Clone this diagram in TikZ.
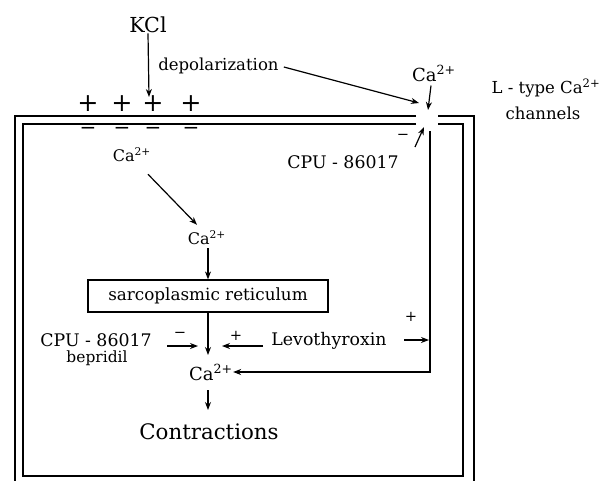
\documentclass[tikz,border=0pt]{standalone}
\usepackage{fontspec}
\setmainfont{DejaVu Serif}
\usetikzlibrary{arrows.meta}
\begin{document}
\begin{tikzpicture}[x=0.75pt,y=-0.75pt,
  arr/.style={-{Stealth[length=6pt,width=4.5pt]}, line width=0.9pt},
  memb/.style={line width=1.6pt},
  txt/.style={inner sep=0pt, font=\fontsize{12.4}{14}\selectfont},
  big/.style={inner sep=0pt, font=\fontsize{16}{18}\selectfont},
  sgn/.style={inner sep=0pt, font=\fontsize{11}{12}\selectfont},
  plus/.style={inner sep=0pt, font=\fontsize{19}{19}\selectfont},
  minus/.style={inner sep=0pt, font=\fontsize{15}{15}\selectfont},
  ca/.style={inner sep=0pt, font=\fontsize{12}{14}\selectfont},
  srbox/.style={draw, line width=0.9pt, minimum width=180pt, minimum height=24pt, inner sep=0pt, font=\fontsize{12.6}{14}\selectfont}]
\clip (0,0) rectangle (612,480);
\fill[white] (0,0) rectangle (612,480);

% membrane (double line) with gap for the channel
\draw[memb] (416,116) -- (15,116) -- (15,495) -- (474,495) -- (474,116) -- (438,116);
\draw[memb] (416,124) -- (23,124) -- (23,476) -- (463,476) -- (463,124) -- (438,124);

% charges
\foreach \i/\x in {1/88,2/122,3/153,4/191}{
  \node[plus] (p\i) at (\x,104) {+};
  \node[minus] (m\i) at (\x,131) {−};
}

% outside
\node[inner sep=0pt, font=\fontsize{15.5}{17}\selectfont] (kcl) at (148,25) {KCl};
\node[txt, anchor=west] (dep) at (158,66) {depolarization};
\node[inner sep=0pt, font=\fontsize{13.5}{15}\selectfont] (caout) at (434,73) {Ca\textsuperscript{2+}};
\node[txt] (ltype) at (546,88) {L - type  Ca\textsuperscript{2+}};
\node[txt] (chan) at (543,113) {channels};
\coordinate (kclend) at (149,97);
\coordinate (depend) at (419,103);
\coordinate (gapin) at (428,110);
\coordinate (gapout) at (424,127);

\draw[arr] (kcl.south) -- (kclend);
\draw[arr] (dep.east) ++(5,1) -- (depend);
\draw[arr] (caout.south) ++(-3,4) -- (gapin);

% CPU block at channel
\node[sgn] (minch) at (403,137) {−};
\draw[arr] (415,147) -- (gapout);
\node[txt, font=\fontsize{13}{15}\selectfont] (cpu1) at (343,162) {CPU - 86017};

% inside chain
\node[ca] (ca1) at (132,155) {Ca\textsuperscript{2+}};
\node[ca] (ca2) at (207,238) {Ca\textsuperscript{2+}};
\node[srbox] (sr) at (208,296) {sarcoplasmic  reticulum};
\node[inner sep=0pt, font=\fontsize{13.5}{15}\selectfont] (ca3) at (211,372) {Ca\textsuperscript{2+}};
\node[big] (con) at (209,432) {Contractions};

\draw[arr] ([shift={(16,12)}]ca1.south) -- ([shift={(-10,-6)}]ca2.north);
\draw[arr] (ca2.south -| sr.north) ++(0,3) -- (sr.north);
\coordinate (srout) at (208,355);
\draw[arr] (sr.south) -- (srout);
\coordinate (constart) at (208,390);
\coordinate (conend) at (208,410);
\draw[arr] (constart) -- (conend);

% drugs
\node[txt, font=\fontsize{13}{15}\selectfont] (cpu2) at (96,340) {CPU - 86017};
\node[txt, font=\fontsize{11.6}{13}\selectfont] (bep) at (97,358) {bepridil};
\node[txt, font=\fontsize{13}{15}\selectfont] (levo) at (329,341) {Levothyroxin};
\coordinate (cpuend) at (198,346);
\coordinate (levoend) at (222,346);
\draw[arr] (167,346) -- (cpuend);
\node[sgn] (mcpu) at (180,335) {−};
\draw[arr] (levo.west) ++(-8,5) -- (levoend);
\node[sgn] (plevo) at (236,336) {+};

% channel pathway
\coordinate (chtop) at (430,131);
\coordinate (chcorner) at (430,372);
\coordinate (chlevo) at (429,340);
\draw[arr] (chtop) -- (chcorner) -- (ca3.east);
\draw[arr] (404,340) -- (chlevo);
\node[sgn] (pch) at (411,317) {+};
\end{tikzpicture}
\end{document}
